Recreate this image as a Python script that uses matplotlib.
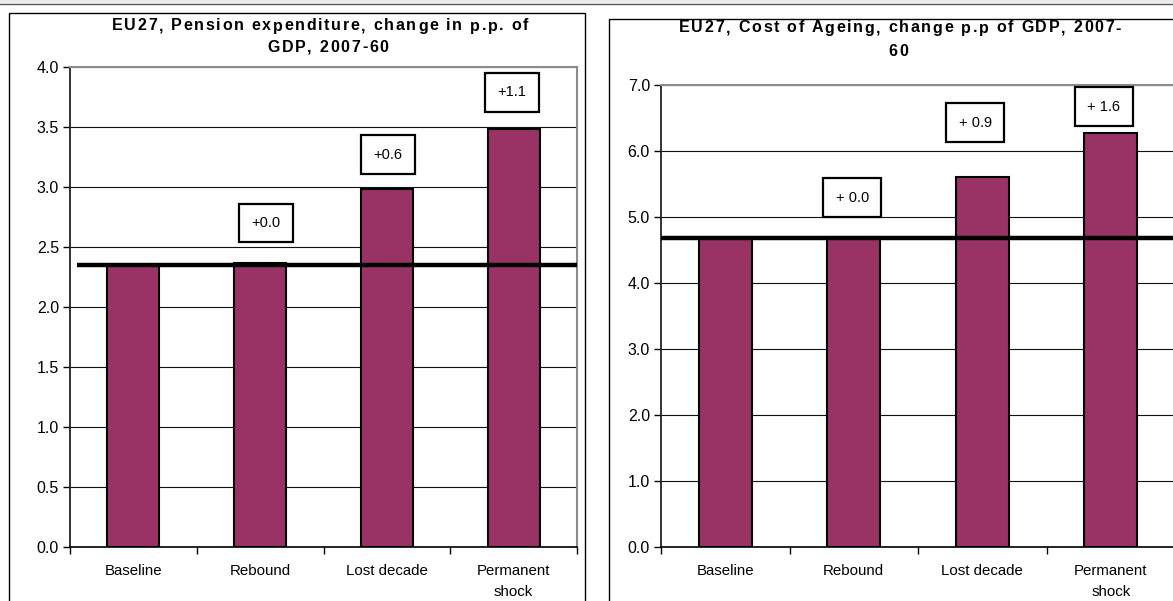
import matplotlib
matplotlib.use("Agg")
import matplotlib.pyplot as plt
import numpy as np
from matplotlib.font_manager import FontProperties
from matplotlib.patches import Rectangle
from matplotlib.lines import Line2D

# ---------------- data ----------------
categories = ['Baseline', 'Rebound', 'Lost decade', 'Permanent\nshock']

pension_title = ['EU27, Pension expenditure, change in p.p. of', 'GDP, 2007-60']
pension_values = [2.35, 2.37, 2.98, 3.48]
pension_baseline = 2.35
pension_labels = ['+0.0', '+0.6', '+1.1']
pension_label_y = [2.70, 3.27, 3.79]
pension_label_dx = [0.045, 0.01, -0.015]
pension_ticks = [0.0, 0.5, 1.0, 1.5, 2.0, 2.5, 3.0, 3.5, 4.0]

ageing_title = ['EU27, Cost of Ageing, change p.p of GDP, 2007-', '60']
ageing_values = [4.68, 4.70, 5.61, 6.27]
ageing_baseline = 4.68
ageing_labels = ['+ 0.0', '+ 0.9', '+ 1.6']
ageing_label_y = [5.29, 6.43, 6.67]
ageing_label_dx = [-0.01, -0.055, -0.055]
ageing_ticks = [0.0, 1.0, 2.0, 3.0, 4.0, 5.0, 6.0, 7.0]

# ---------------- style ----------------
W, H = 1173, 601
FONT = 'Liberation Sans'
BAR_COLOR = '#993366'
plt.rcParams['font.family'] = [FONT, 'DejaVu Sans']

fig = plt.figure(figsize=(W / 100, H / 100), dpi=100)
fig.patch.set_facecolor('white')
renderer = fig.canvas.get_renderer()


def fx(px):
    return px / W


def fy(py):
    return 1 - py / H


def spaced_text(xc, yc, s, size, spacing, weight='bold'):
    prop = FontProperties(family=FONT, size=size, weight=weight)
    base, _, _ = renderer.get_text_width_height_descent('xx', prop, False)
    widths = []
    for c in s:
        w, _, _ = renderer.get_text_width_height_descent('x' + c + 'x', prop, False)
        widths.append(w - base)
    total = sum(widths) + spacing * (len(s) - 1)
    x = xc - total / 2
    for c, w in zip(s, widths):
        fig.text(fx(x), fy(yc), c, fontproperties=prop, ha='left', va='center',
                 color='black')
        x += w + spacing


# top strip
fig.patches.append(Rectangle((0, fy(3)), 1, 1 - fy(3), transform=fig.transFigure,
                             facecolor='#ececec', edgecolor='none', zorder=0))
fig.lines.append(Line2D([0, 1], [fy(3.5), fy(3.5)], transform=fig.transFigure,
                        color='#555555', lw=1.0))

# outer chart boxes
fig.patches.append(Rectangle((fx(9), -0.05), fx(585) - fx(9), fy(13) + 0.05,
                             transform=fig.transFigure, facecolor='none',
                             edgecolor='black', lw=1.0, zorder=1))
fig.patches.append(Rectangle((fx(609), -0.05), 0.6, fy(19) + 0.05,
                             transform=fig.transFigure, facecolor='none',
                             edgecolor='black', lw=1.0, zorder=1))


def make_panel(rect, values, baseline, labels, label_y, label_dx, ticks, line_x0):
    ax = fig.add_axes(rect)
    n = len(categories)
    x = np.arange(n)
    ax.bar(x, values, width=0.41, color=BAR_COLOR, edgecolor='black', lw=1.5, zorder=3)
    ax.set_xlim(-0.5, n - 0.5)
    ax.set_ylim(ticks[0], ticks[-1])
    ax.set_yticks(ticks)
    ax.set_yticklabels([f'{t:.1f}' for t in ticks])
    ax.yaxis.grid(True, color='#111111', lw=0.8, zorder=1)
    ax.set_axisbelow(True)
    # horizontal reference line
    ax.plot([line_x0, n - 0.5], [baseline, baseline], color='black', lw=3.2,
            zorder=4, clip_on=False, solid_capstyle='butt')
    # change labels
    for i, (lab, ly, dx) in enumerate(zip(labels, label_y, label_dx)):
        ax.text(x[i + 1] + dx, ly, lab, ha='center', va='center', fontsize=10.5,
                family=FONT, zorder=5,
                bbox=dict(boxstyle='square,pad=0.85', facecolor='white',
                          edgecolor='black', lw=1.6))
    # axes look
    for side in ['top', 'right']:
        ax.spines[side].set_color('#8c8c8c')
        ax.spines[side].set_linewidth(1.5)
    ax.spines['left'].set_color('#222222')
    ax.spines['left'].set_linewidth(1.3)
    ax.spines['bottom'].set_color('black')
    ax.spines['bottom'].set_linewidth(1.2)
    ax.set_xticks(x)
    ax.set_xticklabels(categories, fontsize=10.8, family=FONT, linespacing=1.6)
    ax.set_xticks(np.arange(-0.5, n, 1.0), minor=True)
    ax.tick_params(axis='x', which='major', length=0, pad=12.5)
    ax.tick_params(axis='x', which='minor', length=5, width=1, direction='out')
    ax.tick_params(axis='y', length=5, width=1, direction='out', labelsize=11.5, pad=3)
    for t in ax.get_yticklabels():
        t.set_family(FONT)
    return ax


axL = make_panel([fx(70), fy(547), fx(577) - fx(70), fy(67) - fy(547)],
                 pension_values, pension_baseline, pension_labels, pension_label_y,
                 pension_label_dx, pension_ticks, -0.445)
axR = make_panel([fx(661), fy(547), fx(1175) - fx(661), fy(85) - fy(547)],
                 ageing_values, ageing_baseline, ageing_labels, ageing_label_y,
                 ageing_label_dx, ageing_ticks, -0.5)

# titles
spaced_text(320, 26, pension_title[0], 11.5, 1.7)
spaced_text(328, 47, pension_title[1], 11.5, 1.7)
spaced_text(900, 28, ageing_title[0], 11.5, 1.7)
spaced_text(898, 52, ageing_title[1], 11.5, 1.7)

fig.savefig('out.png', dpi=100)
